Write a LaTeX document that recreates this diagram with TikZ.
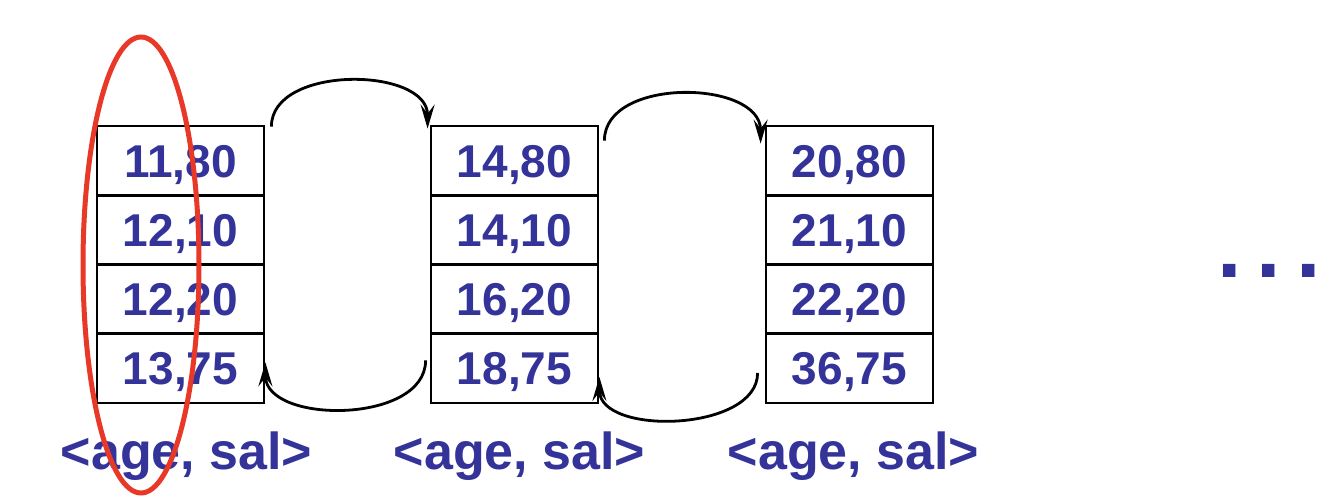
\documentclass[tikz,border=0pt]{standalone}
\usepackage{fontspec}
\setmainfont{Liberation Sans}
\usetikzlibrary{arrows.meta}
\definecolor{txtblue}{RGB}{51,51,153}
\definecolor{ovalred}{RGB}{232,56,40}
\begin{document}
\begin{tikzpicture}[x=1pt,y=-1pt,
  cell/.style={draw=black,line width=2.8pt,minimum width=167pt,minimum height=69.25pt,inner sep=0pt,text height=33pt,text depth=0pt,font=\fontsize{46}{50}\selectfont\bfseries,text=txtblue},
  lbl/.style={anchor=base,font=\fontsize{52}{56}\selectfont\bfseries,text=txtblue,inner sep=0pt},
  link/.style={line width=2.8pt,-{Stealth[length=24pt,width=14pt,inset=9pt]}}]
\useasboundingbox (0,0) rectangle (1336,498);
% column 1
\node[cell] (c11) at (180.5,160.6) {11,80};
\node[cell] (c12) at (180.5,229.9) {12,10};
\node[cell] (c13) at (180.5,299.1) {12,20};
\node[cell] (c14) at (180.5,368.4) {13,75};
% column 2
\node[cell] (c21) at (514.5,160.6) {14,80};
\node[cell] (c22) at (514.5,229.9) {14,10};
\node[cell] (c23) at (514.5,299.1) {16,20};
\node[cell] (c24) at (514.5,368.4) {18,75};
% column 3
\node[cell] (c31) at (849.5,160.6) {20,80};
\node[cell] (c32) at (849.5,229.9) {21,10};
\node[cell] (c33) at (849.5,299.1) {22,20};
\node[cell] (c34) at (849.5,368.4) {36,75};
% labels
\node[lbl] (l1) at (186.5,469) {<age, sal>};
\node[lbl] (l2) at (519.5,469) {<age, sal>};
\node[lbl] (l3) at (853.5,469) {<age, sal>};
\node[anchor=base,inner sep=0pt,font=\fontsize{88}{92}\selectfont\bfseries,text=txtblue] (dots) at (1269,277) {.\kern15pt.\kern15pt.};
% links
\draw[link] ([xshift=6pt,yshift=-2pt]c11.north east) .. controls +(0,-62) and +(0,-62) .. ([xshift=-2pt,yshift=-4pt]c21.north west);
\draw[link] ([xshift=-4pt,yshift=8pt]c24.west) .. controls +(0,64) and +(0,62) .. ([yshift=6pt]c14.east);
\draw[link] ([xshift=5pt,yshift=-16pt]c21.north east) .. controls +(0,-64) and +(0,-64) .. ([xshift=-4pt,yshift=-19pt]c31.north west);
\draw[link] ([xshift=-7pt,yshift=-4.6pt]c34.west) .. controls +(0,59) and +(0,59) .. ([yshift=-8.6pt]c24.east);
% highlight
\draw[ovalred,line width=5pt] (141,265) ellipse [x radius=58, y radius=228];
\end{tikzpicture}
\end{document}
